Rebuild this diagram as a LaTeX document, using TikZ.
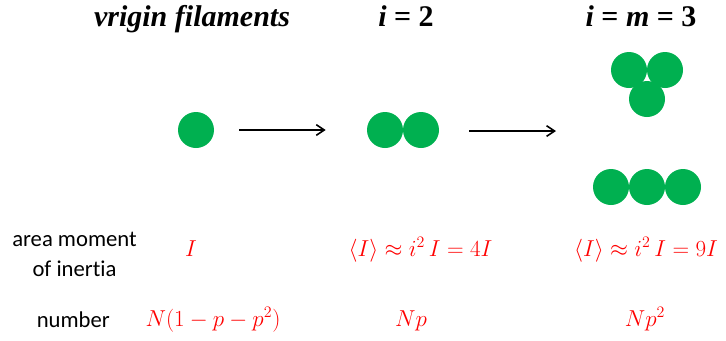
\documentclass[tikz,border=0pt]{standalone}
\usepackage{fontspec}
\setmainfont{Liberation Serif}
\newfontfamily\labelfont[Ligatures=NoCommon]{Carlito}
\usetikzlibrary{arrows.meta, positioning, calc}
\definecolor{filgreen}{RGB}{0,176,80}
\tikzset{
    fil/.style = {circle, fill=filgreen, inner sep=0pt, minimum size=27pt},
    arr/.style = {-{Straight Barb[length=6pt, width=8pt]}, line width=1.2pt},
    ttl/.style = {font=\fontsize{22.5}{26}\selectfont\bfseries, anchor=base, inner sep=0pt},
    lbl/.style = {font=\labelfont\fontsize{17}{22.5}\selectfont, align=center, anchor=base, inner sep=0pt},
    val/.style = {text=red, font=\fontsize{16.5}{20}\selectfont, anchor=base, inner sep=0pt}
}
\begin{document}
\begin{tikzpicture}[x=0.75pt, y=-0.75pt]
\useasboundingbox (0,0) rectangle (726,340);
% Titles
\node[ttl] (t1) at (192, 26.7) {\itshape vrigin filaments};
\node[ttl] (t2) at (406, 26.7) {\itshape i\upshape{} = 2};
\node[ttl] (t3) at (641, 26.7) {\itshape i\upshape{} = \itshape m\upshape{} = 3};

% Filaments
\node[fil] (f1) at (196, 130) {};
\node[fil] (f2a) at (385, 130) {};
\node[fil] (f2b) at (421, 130) {};

% Bundle of three: triangle
\node[fil] (tra) at (629, 70) {};
\node[fil] (trb) at (665, 70) {};
\node[fil] (trc) at (647, 99) {};

% Bundle of three: row
\node[fil] (ra) at (611, 187) {};
\node[fil] (rb) at (647, 187) {};
\node[fil] (rc) at (683, 187) {};

% Growth arrows
\coordinate (m3in) at (556, 131);
\draw[arr, shorten <=18.75pt, shorten >=30.75pt] (f1) -- (f2a);
\draw[arr, shorten <=22.5pt] (f2b.east |- m3in) -- (m3in);

% Row labels
\node[lbl] (lmom) at (74.5, 276.7) {area moment\\of inertia};
\node[lbl] (lnum) at (73.3, 327) {number};

% Area moment of inertia
\node[val] (i1) at (191, 256) {$I$};
\node[val] (i2) at (420.5, 256) {$\langle I\rangle \approx i^2\, I = 4I$};
\node[val] (i3) at (646, 256) {$\langle I\rangle \approx i^2\, I = 9I$};

% Number
\node[val] (n1) at (213, 326) {$N(1-p-p^2)$};
\node[val] (n2) at (411, 326) {$Np$};
\node[val] (n3) at (645, 326) {$Np^2$};
\end{tikzpicture}
\end{document}
